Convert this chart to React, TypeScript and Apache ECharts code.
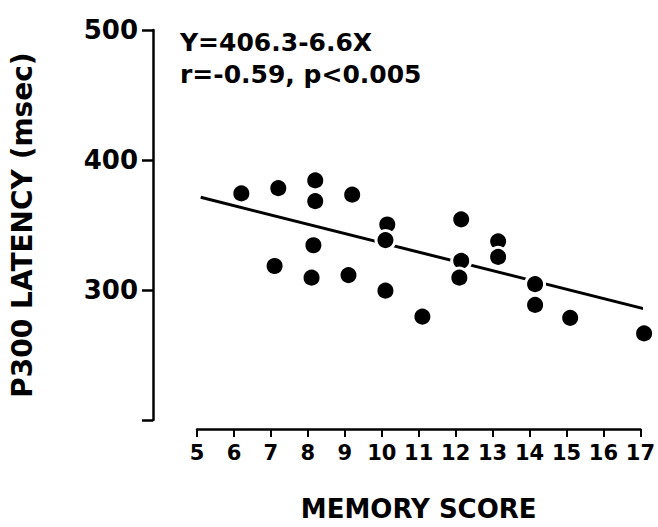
import React, { useEffect, useRef } from "react";
import * as echarts from "echarts";

// Memory score (x) and P300 latency in msec (y)
const memoryScore = [6.2, 7.2, 8.2, 8.2, 9.2, 10.15, 10.1, 8.15, 7.1, 8.1, 9.1, 10.1, 11.1, 12.15, 12.15, 12.1, 13.15, 13.15, 14.15, 14.15, 15.1, 17.1];
const p300Latency = [374, 378, 384, 368, 373, 350, 338, 334, 318, 309, 311, 299, 279, 354, 322, 309, 337, 325, 304, 288, 278, 266];

// Regression line end points as drawn
const fitX = [5.1, 17.1];
const fitY = [371, 285];

const yLabeledTicks = [300, 400, 500];
const equationText = "Y=406.3-6.6X";
const statsText = "r=-0.59, p<0.005";

const FONT = "DejaVu Sans";

export default function App() {
  const ref = useRef<HTMLDivElement>(null);
  useEffect(() => {
    if (!ref.current) return;
    const chart = echarts.init(ref.current, undefined, { renderer: "svg" });
    const points = memoryScore.map((x, i) => [x, p300Latency[i]]);
    const fit = fitX.map((x, i) => [x, fitY[i]]);
    chart.setOption({
      animation: false,
      backgroundColor: "#fff",
      textStyle: { fontFamily: FONT },
      grid: [
        { left: 152, right: 8, top: 30, bottom: 107 },
        { left: 197, right: 8, top: 30, bottom: 107 },
      ],
      xAxis: [
        { gridIndex: 0, type: "value", show: false, min: 0, max: 1 },
        {
          gridIndex: 1,
          type: "value",
          min: 5,
          max: 17,
          interval: 1,
          offset: 10,
          axisLine: { show: true, lineStyle: { color: "#000", width: 2.5 } },
          axisTick: { show: true, length: 8, lineStyle: { color: "#000", width: 2 } },
          axisLabel: { color: "#000", fontSize: 21, fontWeight: "bold", margin: 13, fontFamily: FONT },
          splitLine: { show: false },
          name: "MEMORY SCORE",
          nameLocation: "middle",
          nameGap: 67,
          nameTextStyle: { color: "#000", fontSize: 26, fontWeight: "bold", fontFamily: FONT },
        },
      ],
      yAxis: [
        {
          gridIndex: 0,
          type: "value",
          min: 200,
          max: 500,
          interval: 100,
          axisLine: { show: true, lineStyle: { color: "#000", width: 2.5 } },
          axisTick: { show: true, length: 11, lineStyle: { color: "#000", width: 2.5 } },
          axisLabel: {
            color: "#000",
            fontSize: 26,
            fontWeight: "bold",
            margin: 15,
            fontFamily: FONT,
            formatter: (v: number) => (yLabeledTicks.includes(v) ? String(v) : ""),
          },
          splitLine: { show: false },
          name: "P300 LATENCY (msec)",
          nameLocation: "middle",
          nameRotate: 90,
          nameGap: 117,
          nameTextStyle: { color: "#000", fontSize: 28, fontWeight: "bold", fontFamily: FONT },
        },
        { gridIndex: 1, type: "value", min: 200, max: 500, show: false },
      ],
      series: [
        {
          type: "line",
          xAxisIndex: 1,
          yAxisIndex: 1,
          data: fit,
          showSymbol: false,
          clip: false,
          lineStyle: { color: "#000", width: 3 },
          z: 2,
        },
        {
          type: "scatter",
          xAxisIndex: 1,
          yAxisIndex: 1,
          data: points,
          symbolSize: 19,
          clip: false,
          itemStyle: { color: "#000", borderColor: "#fff", borderWidth: 3, opacity: 1 },
          z: 3,
        },
      ],
      graphic: [
        {
          type: "text",
          left: 180,
          top: 30,
          style: { text: equationText, fill: "#000", font: `bold 25px "${FONT}"` },
        },
        {
          type: "text",
          left: 180,
          top: 62,
          style: { text: statsText, fill: "#000", font: `bold 25px "${FONT}"` },
        },
      ],
    });
    return () => chart.dispose();
  }, []);
  return <div ref={ref} style={{ position: "fixed", left: 0, top: 0, width: 658, height: 527 }} />;
}
